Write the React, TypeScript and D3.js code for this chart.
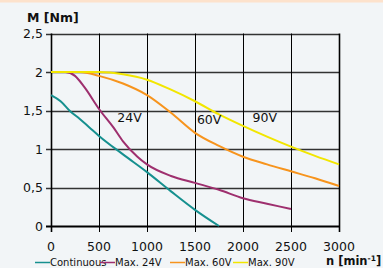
import React from "react";
import * as d3 from "d3";

const xTicks = [0, 500, 1000, 1500, 2000, 2500, 3000];
const yTicks = [0, 0.5, 1, 1.5, 2, 2.5];
const yTickLabels = ["0", "0,5", "1", "1,5", "2", "2,5"];

const continuous: [number, number][] = [
  [0, 1.7], [100, 1.62], [200, 1.49], [300, 1.39], [400, 1.28], [500, 1.17],
  [750, 0.93], [1000, 0.7], [1250, 0.45], [1500, 0.21], [1750, 0],
];
const max24: [number, number][] = [
  [0, 2], [150, 2], [250, 1.95], [350, 1.8], [500, 1.52], [650, 1.28],
  [750, 1.1], [900, 0.9], [1000, 0.8], [1250, 0.65], [1500, 0.56],
  [1750, 0.47], [2000, 0.36], [2250, 0.29], [2500, 0.22],
];
const max60: [number, number][] = [
  [0, 2], [300, 2], [500, 1.95], [750, 1.85], [1000, 1.7], [1250, 1.47],
  [1500, 1.21], [1750, 1.04], [2000, 0.9], [2250, 0.8], [2500, 0.71],
  [2750, 0.62], [3000, 0.52],
];
const max90: [number, number][] = [
  [0, 2], [500, 2], [750, 1.97], [1000, 1.9], [1250, 1.77], [1500, 1.62],
  [1750, 1.45], [2000, 1.3], [2250, 1.16], [2500, 1.03], [2750, 0.91],
  [3000, 0.8],
];

const series = [
  { name: "Continuous", data: continuous, color: "#16908f" },
  { name: "Max. 24V", data: max24, color: "#9e2f6e" },
  { name: "Max. 60V", data: max60, color: "#f7941d" },
  { name: "Max. 90V", data: max90, color: "#f2e600" },
];

const curveLabels = [
  { text: "24V", x: 690, y: 1.35 },
  { text: "60V", x: 1520, y: 1.33 },
  { text: "90V", x: 2100, y: 1.35 },
];

const legendX = [35, 100, 170, 233];

export default function App() {
  const W = 385, H = 268;
  const x = d3.scaleLinear().domain([0, 3000]).range([51, 339]);
  const y = d3.scaleLinear().domain([0, 2.5]).range([226, 33.5]);
  const line = d3
    .line<[number, number]>()
    .x((d) => x(d[0]))
    .y((d) => y(d[1]))
    .curve(d3.curveMonotoneX);
  const font = "'DejaVu Sans', Verdana, sans-serif";

  return (
    <svg
      width={W}
      height={H}
      style={{ position: "absolute", left: 0, top: 0, fontFamily: font }}
    >
      <rect x={0} y={0} width={383} height={H} fill="#f2f5f7" />
      <rect x={0} y={0} width={383} height={2.5} fill="#fde2cc" />
      {yTicks.map((t) => (
        <line
          key={"h" + t}
          x1={46}
          x2={x(3000)}
          y1={Math.round(y(t)) + 0.5}
          y2={Math.round(y(t)) + 0.5}
          stroke={t === 0 ? "#000" : "#333"}
          strokeWidth={t === 0 ? 2 : 1.3}
        />
      ))}
      {xTicks.map((t) => (
        <line
          key={"v" + t}
          x1={Math.round(x(t)) + 0.5}
          x2={Math.round(x(t)) + 0.5}
          y1={y(2.5)}
          y2={232}
          stroke="#000"
          strokeWidth={t === 0 || t === 3000 ? 1.6 : 1}
        />
      ))}
      {series.map((s) => (
        <path
          key={s.name}
          d={line(s.data) || ""}
          fill="none"
          stroke={s.color}
          strokeWidth={2}
        />
      ))}
      {curveLabels.map((l) => (
        <text key={l.text} x={x(l.x)} y={y(l.y)} fontSize={12.5} fill="#111">
          {l.text}
        </text>
      ))}
      {yTicks.map((t, i) => (
        <text
          key={"yl" + t}
          x={43}
          y={y(t) + 4.5}
          fontSize={12.5}
          textAnchor="end"
          fill="#111"
        >
          {yTickLabels[i]}
        </text>
      ))}
      {xTicks.map((t) => (
        <text
          key={"xl" + t}
          x={x(t)}
          y={251}
          fontSize={12.5}
          textAnchor="middle"
          fill="#111"
        >
          {t}
        </text>
      ))}
      <text x={27} y={22} fontSize={12.5} fontWeight="bold" fill="#111">
        M [Nm]
      </text>
      <text x={326} y={265} fontSize={11.5} fontWeight="bold" fill="#111">
        n [min
        <tspan dy={-4} fontSize={7.5}>-1</tspan>
        <tspan dy={4}>]</tspan>
      </text>
      {series.map((s, i) => (
        <g key={"lg" + s.name}>
          <line
            x1={legendX[i]}
            x2={legendX[i] + 15}
            y1={262.5}
            y2={262.5}
            stroke={s.color}
            strokeWidth={1.5}
          />
          <text x={legendX[i] + 15} y={266} fontSize={10} fill="#111">
            {s.name}
          </text>
        </g>
      ))}
    </svg>
  );
}
